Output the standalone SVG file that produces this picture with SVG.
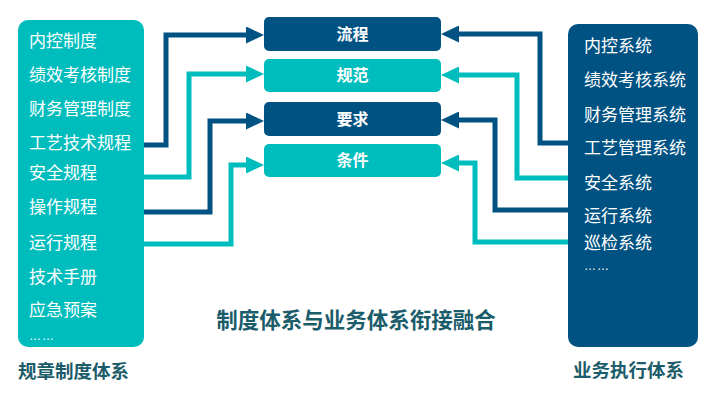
<svg xmlns="http://www.w3.org/2000/svg" width="717" height="404" viewBox="0 0 717 404">
<defs>
<style>
.t{font-family:"Liberation Sans","Noto Sans CJK SC",sans-serif;}
.item{font-size:17px;fill:#ffffff;}
.dots{font-size:12px;fill:#ffffff;letter-spacing:1px;}
.lbl{font-size:16px;font-weight:bold;fill:#ffffff;text-anchor:middle;dominant-baseline:central;}
.ttl{font-weight:bold;fill:#1b5c6a;}
.blue{fill:#005282;}
.teal{fill:#00bdbd;}
.cb{fill:none;stroke:#005282;stroke-width:5;}
.ct{fill:none;stroke:#00bdbd;stroke-width:5;}
</style>
<marker id="ab" markerUnits="userSpaceOnUse" markerWidth="18" markerHeight="17" refX="0" refY="8.5" orient="auto"><path d="M0,0 L18,8.5 L0,17 z" fill="#005282"/></marker>
<marker id="at" markerUnits="userSpaceOnUse" markerWidth="18" markerHeight="17" refX="0" refY="8.5" orient="auto"><path d="M0,0 L18,8.5 L0,17 z" fill="#00bdbd"/></marker>
</defs>
<rect width="717" height="404" fill="#ffffff"/>

<g id="left-panel">
<rect x="18" y="20" width="126" height="327" rx="10" class="teal"/>
<g class="t item">
<text x="29" y="47">内控制度</text>
<text x="29" y="81">绩效考核制度</text>
<text x="29" y="115">财务管理制度</text>
<text x="29" y="149">工艺技术规程</text>
<text x="29" y="179">安全规程</text>
<text x="29" y="213">操作规程</text>
<text x="29" y="249">运行规程</text>
<text x="29" y="283">技术手册</text>
<text x="29" y="316">应急预案</text>
</g>
<text x="29" y="340" class="t dots">……</text>
</g>

<g id="right-panel">
<rect x="568" y="24" width="130" height="323" rx="10" class="blue"/>
<g class="t item">
<text x="584" y="52">内控系统</text>
<text x="584" y="86">绩效考核系统</text>
<text x="584" y="121">财务管理系统</text>
<text x="584" y="154">工艺管理系统</text>
<text x="584" y="189">安全系统</text>
<text x="584" y="222">运行系统</text>
<text x="584" y="249">巡检系统</text>
</g>
<text x="584" y="270" class="t dots">……</text>
</g>

<g id="node-liucheng"><rect x="264" y="17" width="177" height="34" rx="5" class="blue"/><text x="352.5" y="34" class="t lbl">流程</text></g>
<g id="node-guifan"><rect x="264" y="59" width="177" height="33" rx="5" class="teal"/><text x="352.5" y="75.5" class="t lbl">规范</text></g>
<g id="node-yaoqiu"><rect x="264" y="102" width="177" height="34" rx="5" class="blue"/><text x="352.5" y="119" class="t lbl">要求</text></g>
<g id="node-tiaojian"><rect x="264" y="144" width="177" height="33" rx="5" class="teal"/><text x="352.5" y="160.5" class="t lbl">条件</text></g>

<g id="connectors">
<polyline class="cb" points="144,145 166,145 166,35 246,35" marker-end="url(#ab)"/>
<polyline class="ct" points="144,177 189,177 189,74 246,74" marker-end="url(#at)"/>
<polyline class="cb" points="144,212 210,212 210,121 246,121" marker-end="url(#ab)"/>
<polyline class="ct" points="144,244 231,244 231,165 246,165" marker-end="url(#at)"/>
<polyline class="cb" points="568,143 540,143 540,34 459,34" marker-end="url(#ab)"/>
<polyline class="ct" points="568,178 517,178 517,75 459,75" marker-end="url(#at)"/>
<polyline class="cb" points="568,210 495,210 495,120 459,120" marker-end="url(#ab)"/>
<polyline class="ct" points="568,242 475,242 475,163 459,163" marker-end="url(#at)"/>
</g>

<g id="titles">
<text x="356" y="328" class="t ttl" font-size="21.5" text-anchor="middle">制度体系与业务体系衔接融合</text>
<text x="18" y="378" class="t ttl" font-size="18.5" fill="#145e63">规章制度体系</text>
<text x="573" y="377" class="t ttl" font-size="18.5">业务执行体系</text>
</g>
</svg>
